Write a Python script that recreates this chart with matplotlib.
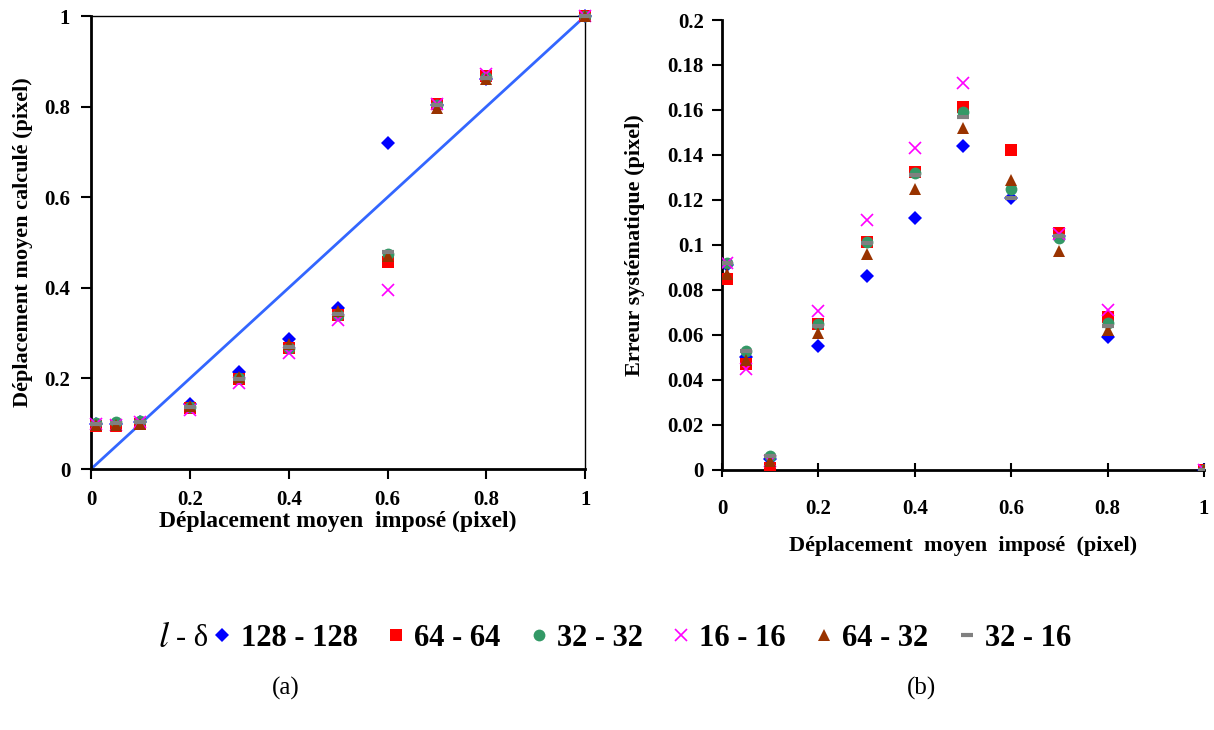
import numpy as np
import matplotlib
matplotlib.use("Agg")
import matplotlib.pyplot as plt
from matplotlib.lines import Line2D

plt.rcParams['font.family'] = ['Liberation Serif', 'DejaVu Serif']

# imposed mean displacement (pixel)
imposed = [0.01, 0.05, 0.1, 0.2, 0.3, 0.4, 0.5, 0.6, 0.7, 0.8, 1.0]

labels = ['128 - 128', '64 - 64', '32 - 32', '16 - 16', '64 - 32', '32 - 16']

# (a) computed mean displacement
calc_128_128 = [0.100, 0.100, 0.103, 0.144, 0.214, 0.288, 0.356, 0.720, 0.804, 0.860, 1.0]
calc_64_64 = [0.095, 0.095, 0.100, 0.135, 0.198, 0.267, 0.339, 0.458, 0.806, 0.868, 1.0]
calc_32_32 = [0.102, 0.103, 0.106, 0.138, 0.202, 0.268, 0.341, 0.475, 0.803, 0.866, 1.0]
calc_16_16 = [0.100, 0.098, 0.104, 0.130, 0.189, 0.257, 0.328, 0.396, 0.805, 0.871, 1.0]
calc_64_32 = [0.097, 0.097, 0.100, 0.139, 0.204, 0.275, 0.348, 0.471, 0.798, 0.862, 1.0]
calc_32_16 = [0.100, 0.101, 0.104, 0.136, 0.199, 0.269, 0.343, 0.479, 0.804, 0.864, 1.0]

# (b) systematic error
err_128_128 = [0.091, 0.050, 0.005, 0.055, 0.086, 0.112, 0.144, 0.121, 0.104, 0.059, 0.0]
err_64_64 = [0.085, 0.047, 0.001, 0.065, 0.1015, 0.1325, 0.1615, 0.142, 0.1055, 0.068, 0.0]
err_32_32 = [0.092, 0.053, 0.006, 0.065, 0.1015, 0.132, 0.159, 0.125, 0.1033, 0.0655, 0.0]
err_16_16 = [0.092, 0.045, 0.004, 0.0705, 0.111, 0.143, 0.172, 0.205, 0.105, 0.071, 0.0]
err_64_32 = [0.087, 0.049, 0.004, 0.061, 0.096, 0.125, 0.152, 0.1287, 0.0975, 0.062, 0.0]
err_32_16 = [0.092, 0.053, 0.006, 0.064, 0.101, 0.131, 0.157, 0.121, 0.104, 0.064, 0.0]

calc = [calc_128_128, calc_64_64, calc_32_32, calc_16_16, calc_64_32, calc_32_16]
err = [err_128_128, err_64_64, err_32_32, err_16_16, err_64_32, err_32_16]

styles = [
    dict(marker='D', color='#0000FF', ms=7, mew=0),
    dict(marker='s', color='#FF0000', ms=8, mew=0),
    dict(marker='o', color='#339966', ms=8.5, mew=0),
    dict(marker='x', color='#FF00FF', ms=8.5, mew=1.2),
    dict(marker='^', color='#993300', ms=9, mew=0),
    dict(marker='_', color='#808080', ms=9, mew=3),
]

fig = plt.figure(figsize=(12.14, 7.30), dpi=100)
ax1 = fig.add_axes([0.075, 0.3575, 0.4070, 0.6205])
ax2 = fig.add_axes([0.5947, 0.3562, 0.3970, 0.6164])

tick_font = dict(fontsize=15, fontweight='bold')

# (a)
ax1.plot([0, 1], [0, 1], color='#3366FF', lw=2, zorder=1)
for vals, st in zip(calc, styles):
    ax1.plot(imposed, vals, ls='none', zorder=3, clip_on=False, **st)
ax1.set_xlim(0, 1)
ax1.set_ylim(0, 1)
ax1.set_xticks(np.arange(0, 1.01, 0.2))
ax1.set_yticks(np.arange(0, 1.01, 0.2))
ax1.set_xticklabels(['0', '0.2', '0.4', '0.6', '0.8', '1'], **tick_font)
ax1.set_yticklabels(['0', '0.2', '0.4', '0.6', '0.8', '1'], **tick_font)
ax1.tick_params(direction='out', length=7, width=1.5, pad=8)
for s in ['left', 'bottom']:
    ax1.spines[s].set_linewidth(2)
for s in ['top', 'right']:
    ax1.spines[s].set_linewidth(1)
ax1.set_xlabel('Déplacement moyen  imposé (pixel)', fontsize=17, fontweight='bold', labelpad=1)
ax1.set_ylabel('Déplacement moyen calculé (pixel)', fontsize=16, fontweight='bold', labelpad=8)

# (b)
for vals, st in zip(err, styles):
    ax2.plot(imposed, vals, ls='none', zorder=3, clip_on=True, **st)
ax2.set_xlim(0, 1)
ax2.set_ylim(0, 0.2)
ax2.set_xticks(np.arange(0, 1.01, 0.2))
ax2.set_yticks(np.arange(0, 0.201, 0.02))
ax2.set_xticklabels(['0', '0.2', '0.4', '0.6', '0.8', '1'], **tick_font)
ax2.set_yticklabels(['0', '0.02', '0.04', '0.06', '0.08', '0.1', '0.12', '0.14',
                     '0.16', '0.18', '0.2'], **tick_font)
ax2.tick_params(axis='y', direction='out', length=7, width=1.5, pad=6)
ax2.tick_params(axis='x', direction='inout', length=10, width=1.5, pad=16)
ax2.spines['top'].set_visible(False)
ax2.spines['right'].set_visible(False)
for s in ['left', 'bottom']:
    ax2.spines[s].set_linewidth(2)
ax2.set_xlabel('Déplacement  moyen  imposé  (pixel)', fontsize=16, fontweight='bold', labelpad=12)
ax2.set_ylabel('Erreur systématique (pixel)', fontsize=16, fontweight='bold', labelpad=16)

# legend
handles = [Line2D([], [], ls='none', **st) for st in styles]
fig.legend(handles, labels, loc='center', bbox_to_anchor=(0.529, 0.126), ncol=6,
           frameon=False, prop=dict(family='Liberation Serif', weight='bold', size=22),
           handlelength=0.6, handletextpad=0.3, columnspacing=0.95)
fig.text(0.135, 0.126, '$\\it{l}$', fontsize=26, ha='center', va='center',
         math_fontfamily='stix')
fig.text(0.145, 0.126, '- δ', fontsize=22, ha='left', va='center')

fig.text(0.235, 0.057, '(a)', fontsize=18, ha='center', va='center')
fig.text(0.759, 0.057, '(b)', fontsize=18, ha='center', va='center')

fig.savefig('out.png', dpi=100)
